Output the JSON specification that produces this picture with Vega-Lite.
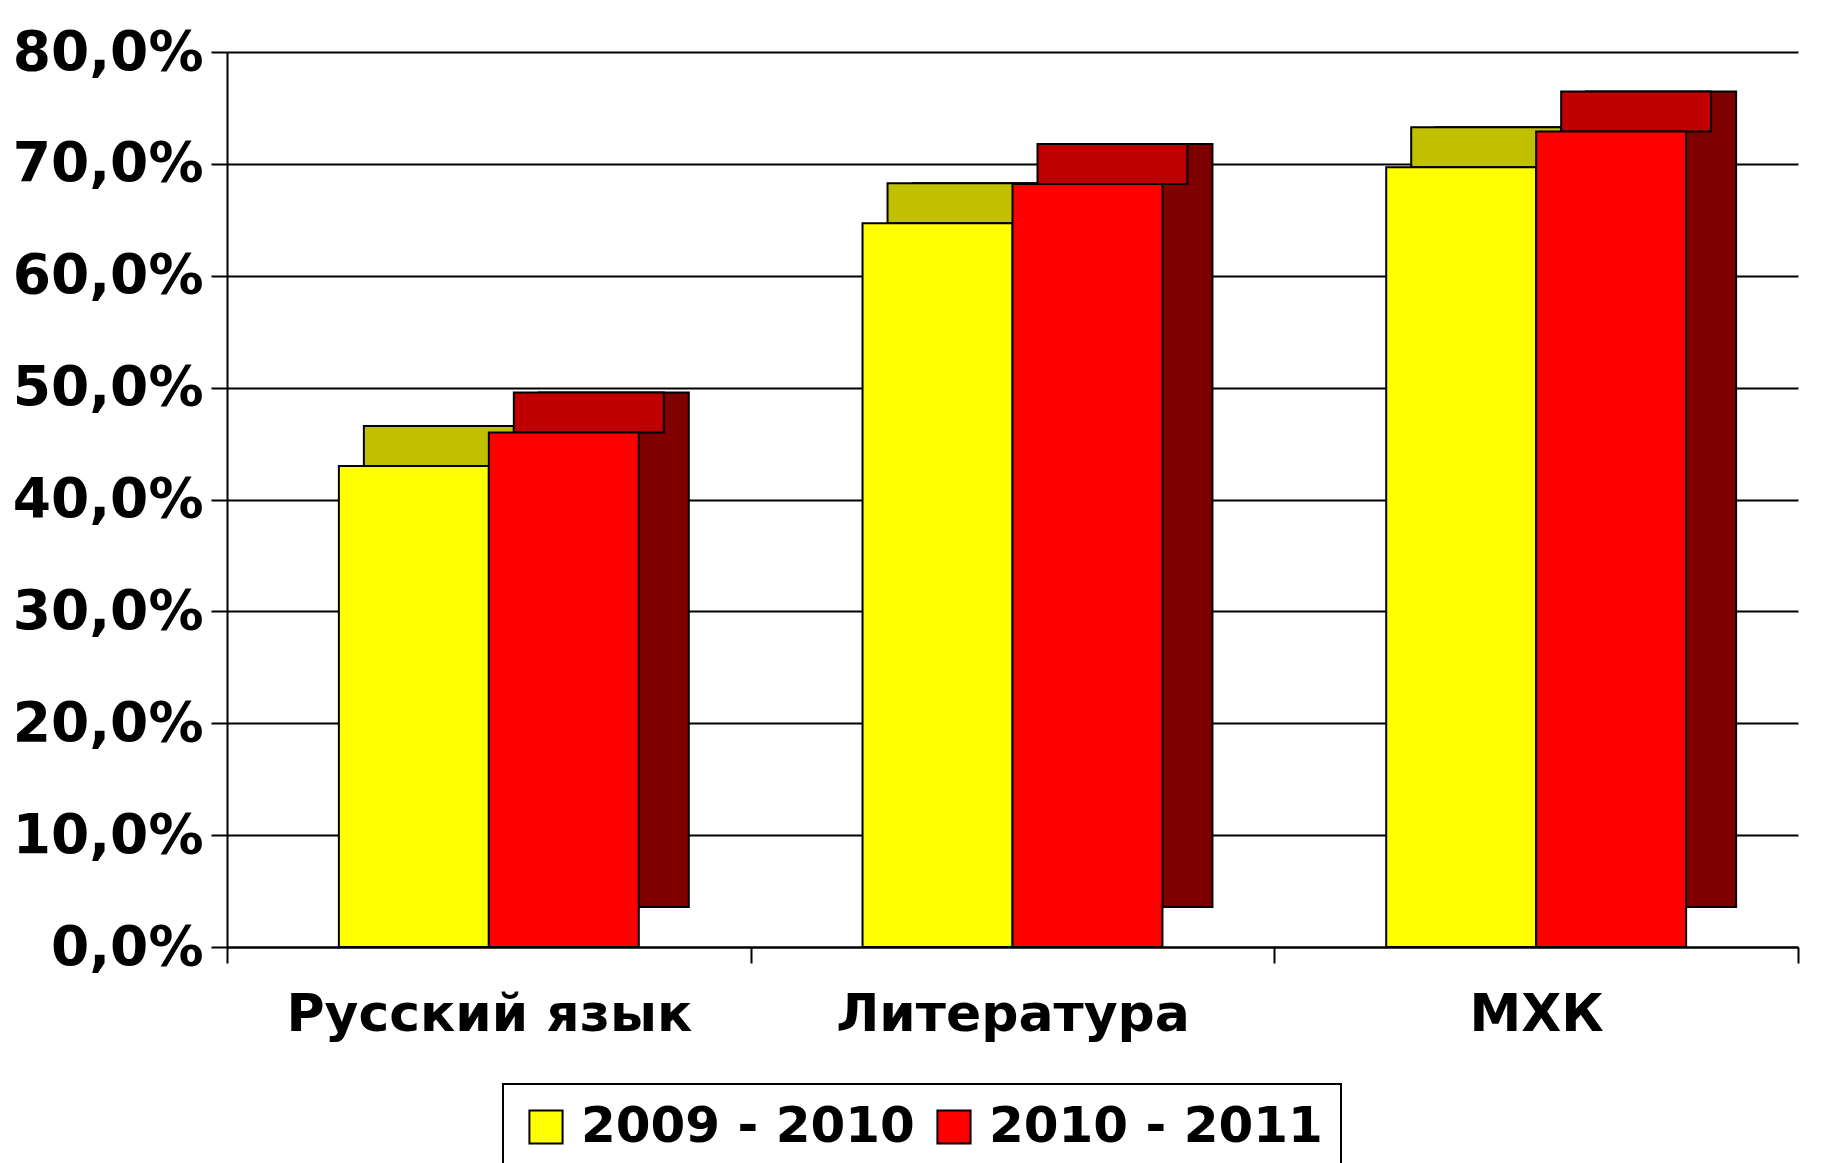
{
  "$schema": "https://vega.github.io/schema/vega-lite/v6.json",
  "width": 1571,
  "height": 895,
  "autosize": {"type": "none"},
  "padding": {"left": 227, "top": 52, "right": 45, "bottom": 216},
  "background": "white",
  "config": {"view": {"stroke": null}, "font": "DejaVu Sans", "legend": {"strokeWidth": 2}},
  "data": {
    "values": [
      {"subject": "Русский язык", "year": "2009 - 2010", "value": 0.430},
      {"subject": "Русский язык", "year": "2010 - 2011", "value": 0.460},
      {"subject": "Литература", "year": "2009 - 2010", "value": 0.647},
      {"subject": "Литература", "year": "2010 - 2011", "value": 0.682},
      {"subject": "МХК", "year": "2009 - 2010", "value": 0.697},
      {"subject": "МХК", "year": "2010 - 2011", "value": 0.729}
    ]
  },
  "encoding": {
    "x": {
      "field": "subject",
      "type": "nominal",
      "sort": ["Русский язык", "Литература", "МХК"],
      "scale": {"paddingInner": 0, "paddingOuter": 0},
      "axis": {
        "title": null,
        "labelAngle": 0,
        "labelLimit": 0,
        "labelFont": "DejaVu Sans",
        "labelFontSize": 52,
        "labelFontWeight": "bold",
        "labelColor": "black",
        "labelPadding": 26,
        "tickBand": "extent",
        "tickSize": 16,
        "tickWidth": 2,
        "tickColor": "black",
        "domainColor": "black",
        "domainWidth": 2,
        "grid": false
      }
    },
    "y": {
      "field": "value",
      "type": "quantitative",
      "scale": {"domain": [0, 0.8]},
      "axis": {
        "title": null,
        "values": [0, 0.1, 0.2, 0.3, 0.4, 0.5, 0.6, 0.7, 0.8],
        "labelExpr": "replace(format(datum.value, '.1%'), '.', ',')",
        "labelLimit": 0,
        "labelFont": "DejaVu Sans",
        "labelFontSize": 55,
        "labelFontWeight": "bold",
        "labelColor": "black",
        "labelPadding": 8,
        "tickSize": 16,
        "tickWidth": 2,
        "tickColor": "black",
        "domainColor": "black",
        "domainWidth": 2,
        "grid": true,
        "gridColor": "black",
        "gridWidth": 2,
        "gridOpacity": 1
      }
    }
  },
  "layer": [
    {
      "mark": {"type": "bar", "yOffset": -40, "y2Offset": -20, "stroke": "black", "strokeWidth": 2},
      "encoding": {
        "xOffset": {"field": "year", "type": "nominal", "sort": ["2009 - 2010", "2010 - 2011"], "scale": {"paddingInner": 0, "paddingOuter": 0.746, "range": [50, 573.67]}},
        "color": {
          "field": "year",
          "type": "nominal",
          "scale": {"domain": ["2009 - 2010", "2010 - 2011"], "range": ["#808000", "#800000"]},
          "legend": null
        }
      }
    },
    {
      "mark": {"type": "bar", "yOffset": -40, "y2Offset": 0, "stroke": "black", "strokeWidth": 2},
      "encoding": {
        "xOffset": {"field": "year", "type": "nominal", "sort": ["2009 - 2010", "2010 - 2011"], "scale": {"paddingInner": 0, "paddingOuter": 0.746, "range": [25, 548.67]}},
        "y2": {"field": "value"},
        "color": {
          "field": "year",
          "type": "nominal",
          "scale": {"domain": ["2009 - 2010", "2010 - 2011"], "range": ["#C0C000", "#C00000"]},
          "legend": null
        }
      }
    },
    {
      "mark": {"type": "bar", "stroke": "black", "strokeWidth": 2},
      "encoding": {
        "xOffset": {"field": "year", "type": "nominal", "sort": ["2009 - 2010", "2010 - 2011"], "scale": {"paddingInner": 0, "paddingOuter": 0.746}},
        "color": {
          "field": "year",
          "type": "nominal",
          "scale": {"domain": ["2009 - 2010", "2010 - 2011"], "range": ["#FFFF00", "#FF0000"]},
          "legend": {
            "title": null,
            "orient": "none",
            "legendX": 276,
            "legendY": 1032,
            "direction": "horizontal",
            "strokeColor": "black",
            "padding": 18,
            "symbolType": "square",
            "symbolSize": 1100,
            "symbolStrokeColor": "black",
            "symbolStrokeWidth": 2,
            "symbolOpacity": 1,
            "labelLimit": 0,
            "labelFont": "DejaVu Sans",
            "labelFontSize": 50,
            "labelFontWeight": "bold",
            "labelColor": "black",
            "labelOffset": 10,
            "columnPadding": 14
          }
        }
      }
    }
  ],
  "resolve": {"scale": {"color": "independent", "xOffset": "independent"}}
}
